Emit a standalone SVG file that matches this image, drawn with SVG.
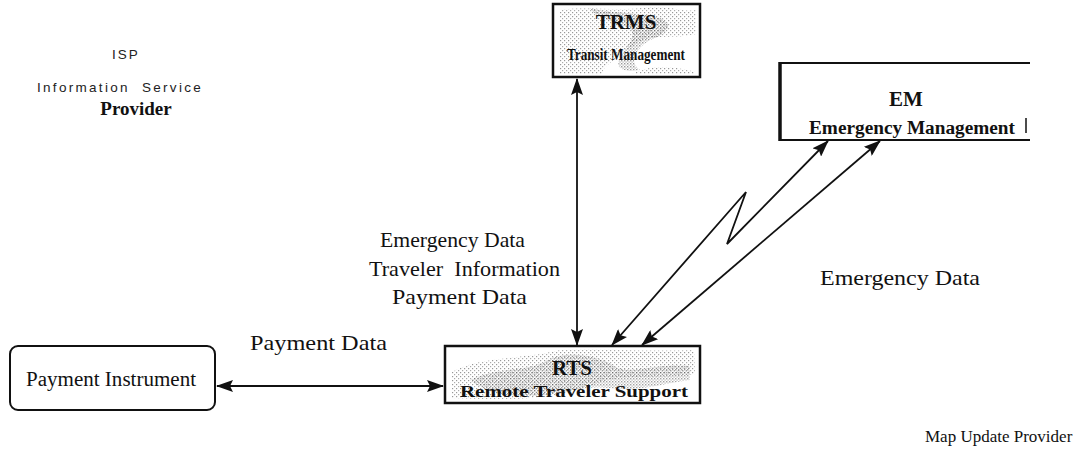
<svg xmlns="http://www.w3.org/2000/svg" width="1079" height="452" viewBox="0 0 1079 452">
  <style>
    .lbl { font-family: "Liberation Serif", "Times New Roman", serif; font-size: 22px; fill: #111; }
    .box { fill: #fff; stroke: #111; stroke-width: 2.5; }
    .tex { fill: url(#stipple); }
    .tex2 { fill: url(#stipple-dense); }
    .btitle { font-family: "Liberation Serif", serif; font-weight: bold; fill: #111; text-anchor: middle; }
    .sans { font-family: "Liberation Sans", Arial, sans-serif; fill: #222; }
    .conn { fill: none; stroke: #111; stroke-width: 1.8; }
  </style>
  <defs>
    <pattern id="stipple" width="4" height="4" patternUnits="userSpaceOnUse">
      <rect x="0" y="0" width="1.2" height="1.2" fill="#444"/>
      <rect x="2" y="2" width="1.2" height="1.2" fill="#666"/>
    </pattern>
    <pattern id="stipple-dense" width="3" height="3" patternUnits="userSpaceOnUse">
      <rect x="0" y="0" width="1.4" height="1.4" fill="#333"/>
      <rect x="1.5" y="1.5" width="1.2" height="1.2" fill="#555"/>
    </pattern>
    <marker id="ah" viewBox="0 0 17 12" refX="16" refY="6" markerWidth="17" markerHeight="12" markerUnits="userSpaceOnUse" orient="auto-start-reverse">
      <path d="M0,0 L17,6 L0,12 L3,6 Z" fill="#111"/>
    </marker>
  </defs>

  <!-- ISP legend, top left -->
  <g id="isp">
    <text class="sans" x="126" y="59" font-size="13.5" letter-spacing="2" text-anchor="middle">ISP</text>
    <text class="sans" x="37" y="92" font-size="13.5" letter-spacing="2.3" xml:space="preserve">Information  Service</text>
    <text class="btitle" x="136" y="115" font-size="19">Provider</text>
  </g>

  <!-- Transit Management -->
  <g id="trms">
    <rect class="box" x="553" y="4" width="147" height="73"/>
    <path class="tex" d="M560,10 C585,6 620,12 650,7 C670,6 685,12 696,10 L696,34 C670,40 650,32 632,46 C614,60 598,70 604,74 L632,74 C655,62 680,68 696,72 L696,74 L560,74 Z" opacity="0.55"/>
    <path class="tex2" d="M590,8 C612,14 640,12 660,18 C675,24 668,34 650,40 C636,48 628,62 640,70 C626,72 614,70 620,58 C626,46 640,34 628,28 C610,20 596,18 590,8 Z" opacity="0.5"/>
    <text class="btitle" x="626" y="29" font-size="21">TRMS</text>
    <text class="btitle" x="626" y="60" font-size="16" textLength="118" lengthAdjust="spacingAndGlyphs">Transit Management</text>
  </g>

  <!-- Emergency Management -->
  <g id="em">
    <rect x="780" y="63" width="250" height="77" fill="#fff" stroke="none"/>
    <path d="M780,63 L1030,63 M780,140 L1030,140" fill="none" stroke="#111" stroke-width="2"/>
    <line x1="780" y1="62" x2="780" y2="141" stroke="#111" stroke-width="3.5"/>
    <line x1="1026" y1="118" x2="1026" y2="133" stroke="#111" stroke-width="1.5"/>
    <text class="btitle" x="906" y="106" font-size="21">EM</text>
    <text class="btitle" x="912" y="134" font-size="18" textLength="206" lengthAdjust="spacingAndGlyphs">Emergency Management</text>
  </g>

  <!-- Remote Traveler Support -->
  <g id="rts">
    <rect class="box" x="445" y="346" width="255" height="57"/>
    <path class="tex" d="M452,372 C480,356 520,360 560,350 C600,348 640,352 694,350 L695,374 C650,380 620,372 590,386 C560,398 520,400 480,399 L452,398 Z" opacity="0.55"/>
    <path class="tex2" d="M470,380 C500,366 530,372 548,360 C566,350 600,356 614,366 C628,376 660,362 690,366 L690,380 C660,384 640,392 610,388 C580,384 560,396 530,396 C505,396 485,392 470,380 Z" opacity="0.45"/>
    <text class="btitle" x="572" y="375" font-size="21">RTS</text>
    <text class="btitle" x="574" y="397" font-size="17" textLength="228" lengthAdjust="spacingAndGlyphs">Remote Traveler Support</text>
  </g>

  <!-- Payment Instrument -->
  <g id="payment-instrument">
    <rect x="10" y="346" width="205" height="64" rx="8" fill="#fff" stroke="#111" stroke-width="2"/>
    <text class="lbl" x="26" y="386" style="font-size:20px" textLength="170" lengthAdjust="spacingAndGlyphs">Payment Instrument</text>
  </g>

  <!-- Map Update Provider -->
  <g id="map-update">
    <text class="lbl" x="925" y="442" style="font-size:17px">Map Update Provider</text>
  </g>

  <!-- connectors -->
  <g id="connectors">
    <line class="conn" x1="577" y1="79" x2="577" y2="345" marker-start="url(#ah)" marker-end="url(#ah)"/>
    <line class="conn" x1="217" y1="386" x2="443" y2="386" marker-start="url(#ah)" marker-end="url(#ah)"/>
    <polyline class="conn" points="828,141 727,244 746,192 612,345" marker-start="url(#ah)" marker-end="url(#ah)"/>
    <line class="conn" x1="880" y1="141" x2="642" y2="345" marker-start="url(#ah)" marker-end="url(#ah)"/>
  </g>

  <!-- connector labels -->
  <g id="labels">
    <text class="lbl" x="380" y="247" textLength="145" lengthAdjust="spacingAndGlyphs">Emergency Data</text>
    <text class="lbl" x="369" y="276" xml:space="preserve" textLength="191" lengthAdjust="spacingAndGlyphs">Traveler  Information</text>
    <text class="lbl" x="392" y="304" textLength="135" lengthAdjust="spacingAndGlyphs">Payment Data</text>
    <text class="lbl" x="250" y="350" textLength="137" lengthAdjust="spacingAndGlyphs">Payment Data</text>
    <text class="lbl" x="820" y="285" textLength="160" lengthAdjust="spacingAndGlyphs">Emergency Data</text>
  </g>
</svg>
